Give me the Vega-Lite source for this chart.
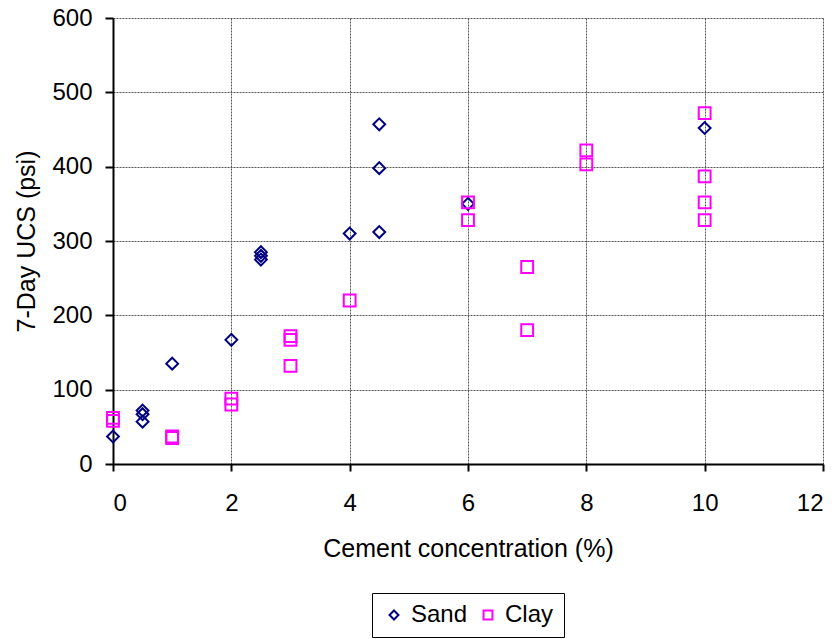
{
  "$schema": "https://vega.github.io/schema/vega-lite/v6.json",
  "width": 710,
  "height": 446,
  "autosize": {"type": "none"},
  "padding": {"left": 113, "top": 18, "right": 17, "bottom": 175},
  "background": "white",
  "config": {
    "font": "Liberation Sans",
    "view": {"stroke": null},
    "axis": {
      "labelFont": "Liberation Sans",
      "titleFont": "Liberation Sans",
      "labelFontSize": 24,
      "titleFontSize": 25,
      "titleFontWeight": "normal",
      "labelColor": "black",
      "titleColor": "black",
      "domainColor": "black",
      "domainWidth": 2,
      "tickColor": "black",
      "tickWidth": 2,
      "gridColor": "#555555",
      "gridDash": [2, 1],
      "gridWidth": 1
    }
  },
  "data": {
    "values": [
      {"c": 0, "ucs": 37, "soil": "Sand"},
      {"c": 0.5, "ucs": 72, "soil": "Sand"},
      {"c": 0.5, "ucs": 67, "soil": "Sand"},
      {"c": 0.5, "ucs": 57, "soil": "Sand"},
      {"c": 1, "ucs": 135, "soil": "Sand"},
      {"c": 2, "ucs": 167, "soil": "Sand"},
      {"c": 2.5, "ucs": 285, "soil": "Sand"},
      {"c": 2.5, "ucs": 280, "soil": "Sand"},
      {"c": 2.5, "ucs": 275, "soil": "Sand"},
      {"c": 4, "ucs": 310, "soil": "Sand"},
      {"c": 4.5, "ucs": 457, "soil": "Sand"},
      {"c": 4.5, "ucs": 398, "soil": "Sand"},
      {"c": 4.5, "ucs": 312, "soil": "Sand"},
      {"c": 6, "ucs": 350, "soil": "Sand"},
      {"c": 10, "ucs": 452, "soil": "Sand"},
      {"c": 0, "ucs": 62, "soil": "Clay"},
      {"c": 0, "ucs": 58, "soil": "Clay"},
      {"c": 1, "ucs": 37, "soil": "Clay"},
      {"c": 1, "ucs": 35, "soil": "Clay"},
      {"c": 2, "ucs": 88, "soil": "Clay"},
      {"c": 2, "ucs": 80, "soil": "Clay"},
      {"c": 3, "ucs": 172, "soil": "Clay"},
      {"c": 3, "ucs": 167, "soil": "Clay"},
      {"c": 3, "ucs": 132, "soil": "Clay"},
      {"c": 4, "ucs": 220, "soil": "Clay"},
      {"c": 6, "ucs": 352, "soil": "Clay"},
      {"c": 6, "ucs": 328, "soil": "Clay"},
      {"c": 7, "ucs": 265, "soil": "Clay"},
      {"c": 7, "ucs": 180, "soil": "Clay"},
      {"c": 8, "ucs": 422, "soil": "Clay"},
      {"c": 8, "ucs": 403, "soil": "Clay"},
      {"c": 10, "ucs": 472, "soil": "Clay"},
      {"c": 10, "ucs": 387, "soil": "Clay"},
      {"c": 10, "ucs": 352, "soil": "Clay"},
      {"c": 10, "ucs": 328, "soil": "Clay"}
    ]
  },
  "mark": {"type": "point", "filled": false, "strokeWidth": 2, "size": 140, "opacity": 1},
  "encoding": {
    "x": {
      "field": "c", "type": "quantitative",
      "scale": {"domain": [0, 12], "nice": false, "zero": false},
      "axis": {"values": [0, 2, 4, 6, 8, 10, 12], "title": "Cement concentration (%)", "tickSize": 7, "labelPadding": 20, "titlePadding": 21}
    },
    "y": {
      "field": "ucs", "type": "quantitative",
      "scale": {"domain": [0, 600], "nice": false},
      "axis": {"values": [0, 100, 200, 300, 400, 500, 600], "title": "7-Day UCS (psi)", "tickSize": 8, "labelPadding": 13, "titlePadding": 12}
    },
    "shape": {
      "field": "soil", "type": "nominal",
      "scale": {"domain": ["Sand", "Clay"], "range": ["diamond", "square"]},
      "legend": null
    },
    "color": {
      "field": "soil", "type": "nominal",
      "scale": {"domain": ["Sand", "Clay"], "range": ["#000080", "#FF00FF"]},
      "legend": {
        "title": null, "orient": "none", "direction": "horizontal",
        "legendX": 259, "legendY": 575,
        "labelFontSize": 24, "labelFont": "Liberation Sans", "labelColor": "black",
        "symbolSize": 80, "symbolStrokeWidth": 2, "symbolFillColor": "transparent",
        "strokeColor": "black", "padding": 10, "columnPadding": 8, "labelOffset": 5,
        "symbolType": "diamond"
      }
    }
  }
}
